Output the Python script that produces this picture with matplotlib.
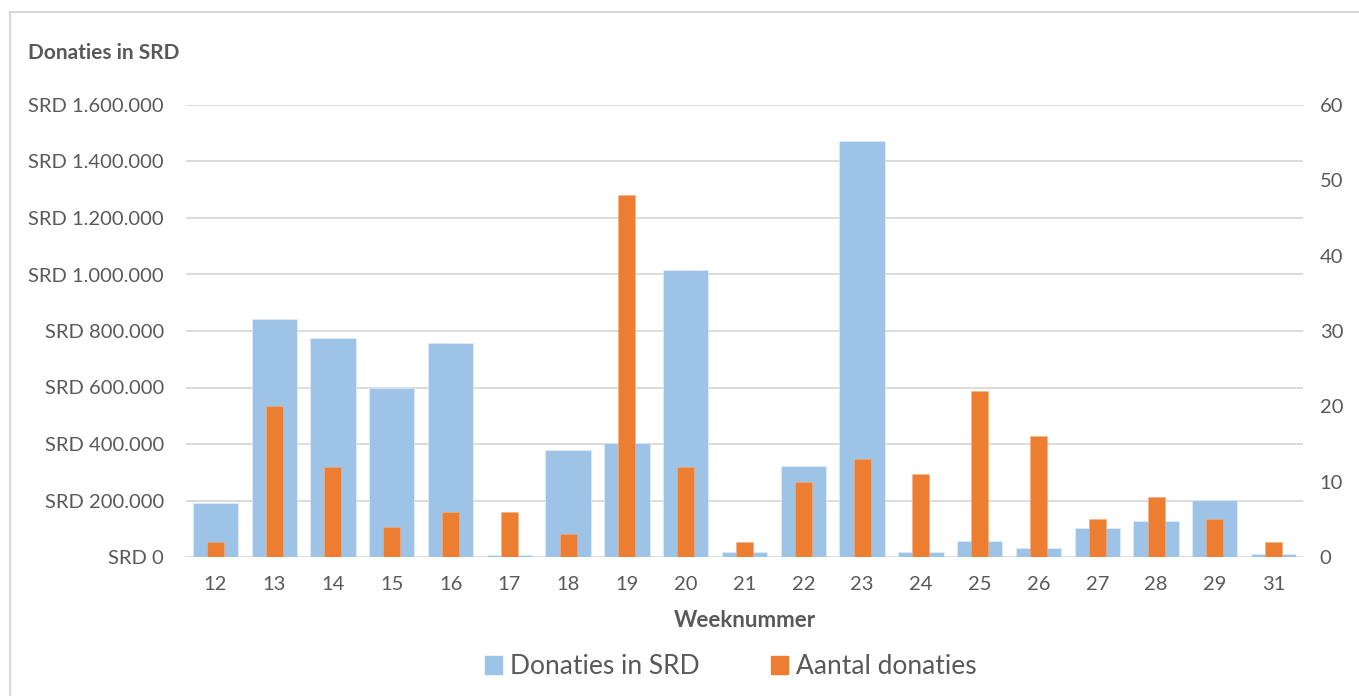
import numpy as np
import matplotlib.pyplot as plt
from matplotlib.patches import Rectangle
from matplotlib.ticker import FuncFormatter

plt.rcParams['font.family'] = ['Lato', 'DejaVu Sans']

weken = ['12', '13', '14', '15', '16', '17', '18', '19', '20', '21',
         '22', '23', '24', '25', '26', '27', '28', '29', '31']
donaties_srd = [190000, 843000, 774000, 600000, 757000, 6000, 380000, 404000, 1016000, 19000,
                321000, 1474000, 17000, 57000, 32000, 102000, 128000, 201000, 10000]
aantal = [2, 20, 12, 4, 6, 6, 3, 48, 12, 2,
          10, 13, 11, 22, 16, 5, 8, 5, 2]

blauw = '#9DC3E6'
oranje = '#ED7D31'
grijs = '#595959'

fig = plt.figure(figsize=(13.59, 6.96), dpi=100)
# kader rond de grafiek
fig.patches.append(Rectangle((10/1359, -0.01), 1.0, 1 - 12/696 + 0.01, transform=fig.transFigure,
                             fill=False, edgecolor='#D9D9D9', linewidth=1.5))

ax = fig.add_axes([186/1359, 1 - 557/696, (1303 - 186)/1359, (557 - 105)/696])
x = np.arange(len(weken))
ax.bar(x, donaties_srd, width=0.77, color=blauw, edgecolor='#EAF2FA', linewidth=0.4, zorder=2)
ax.set_ylim(0, 1600000)
ax.set_yticks(np.arange(0, 1600001, 200000))
ax.yaxis.set_major_formatter(FuncFormatter(lambda v, p: 'SRD ' + f'{int(v):,}'.replace(',', '.')))
ax.set_xlim(-0.5, len(weken) - 0.5)
ax.set_xticks(x)
ax.set_xticklabels(weken)
ax.grid(axis='y', color='#D9D9D9', linewidth=1.3, zorder=0)
ax.set_axisbelow(True)
for s in ax.spines.values():
    s.set_visible(False)
ax.tick_params(length=0, labelsize=14.5, colors=grijs, pad=16)
ax.tick_params(axis='x', pad=14)
ax.set_xlabel('Weeknummer', fontsize=16, fontweight='bold', color=grijs, labelpad=12)

ax2 = ax.twinx()
ax2.bar(x, aantal, width=0.29, color=oranje, edgecolor='#F4B183', linewidth=0.4, zorder=3)
ax2.set_ylim(0, 60)
ax2.set_yticks(np.arange(0, 61, 10))
for s in ax2.spines.values():
    s.set_visible(False)
ax2.tick_params(length=0, labelsize=14.5, colors=grijs, pad=12)

fig.text(28/1359, 1 - 53/696, 'Donaties in SRD', fontsize=15, fontweight='bold',
         color=grijs, va='center')

h1 = Rectangle((0, 0), 1, 1, color=blauw)
h2 = Rectangle((0, 0), 1, 1, color=oranje)
fig.legend([h1, h2], ['Donaties in SRD', 'Aantal donaties'], loc='center',
           bbox_to_anchor=(731/1359, 1 - 667/696), ncol=2, frameon=False,
           fontsize=19, labelcolor=grijs, handlelength=0.65, handleheight=0.65,
           handletextpad=0.3, columnspacing=2.7)

fig.savefig('out.png', dpi=100)
